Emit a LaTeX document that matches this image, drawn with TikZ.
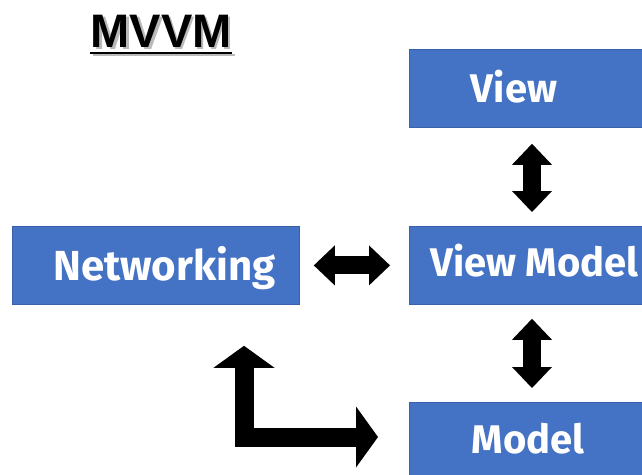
\documentclass[tikz,border=0pt]{standalone}
\usepackage{fontspec}
\setmainfont{Liberation Sans}
\newfontfamily\labelfont{Fira Sans}
\usetikzlibrary{arrows.meta,calc}
\definecolor{boxblue}{HTML}{4472C4}
\definecolor{boxedge}{HTML}{3A62AC}
\tikzset{
  block/.style={fill=boxblue, draw=boxedge, line width=0.8pt, rectangle,
    inner sep=0pt, anchor=north west},
  lbl/.style={text=white, font=\labelfont\bfseries\fontsize{40}{40}\selectfont,
    inner sep=0pt, anchor=base},
  twoway/.style={line width=18pt, draw=black,
    {Triangle[width=40pt,length=21pt,line width=0pt]}-{Triangle[width=40pt,length=21pt,line width=0pt]}},
  elbow/.style={line width=19pt, draw=black, line join=miter,
    {Triangle[width=61pt,length=22pt,line width=0pt]}-{Triangle[width=61pt,length=22pt,line width=0pt]}},
}
\begin{document}
\begin{tikzpicture}[x=1pt,y=-1pt]
\useasboundingbox (0,0) rectangle (642,474);
\fill[white] (0,0) rectangle (642,474);

% title with a soft drop shadow
\node[text=black!45, opacity=0.6, font=\bfseries\fontsize{47}{47}\selectfont,
  inner sep=0pt, anchor=base] (titleshadow) at (163.5,49.5) {MVVM};
\fill[black!45, opacity=0.6] (92.5,53.5) rectangle (234.5,56);
\node[font=\bfseries\fontsize{47}{47}\selectfont, inner sep=0pt, anchor=base]
  (title) at (161,47) {MVVM};
\fill[black] (90,51.5) rectangle (232,54);

% boxes
\node[block, minimum width=240pt, minimum height=78pt] (view) at (409,49) {};
\node[block, minimum width=240pt, minimum height=78pt] (vm) at (409,225.5) {};
\node[block, minimum width=240pt, minimum height=80pt] (model) at (409,402) {};
\node[block, minimum width=287pt, minimum height=78pt] (net) at (12,226) {};

% labels
\node[lbl] (viewtxt) at (514,102) {View};
\node[lbl] (vmtxt) at (534.5,276) {View Model};
\node[lbl] (modeltxt) at (528,453) {Model};
\node[lbl, font=\labelfont\bfseries\fontsize{42}{42}\selectfont] (nettxt) at (164.5,280) {Networking};

% connectors
\draw[twoway] ($(net.east)+(14,0)$) -- ($(vm.west |- net.east)+(-19,0)$);
\draw[twoway] ($(view.south west)+(123,16)$) -- ($(vm.north west)+(123,-13.5)$);
\draw[twoway] ($(vm.south west)+(123,14.5)$) -- ($(model.north west)+(123,-14)$);
\coordinate (lstart) at ($(net.south west)+(232,41)$);
\coordinate (lend) at ($(model.north west)+(-31,35)$);
\draw[elbow] (lstart) |- (lend);
\end{tikzpicture}
\end{document}
